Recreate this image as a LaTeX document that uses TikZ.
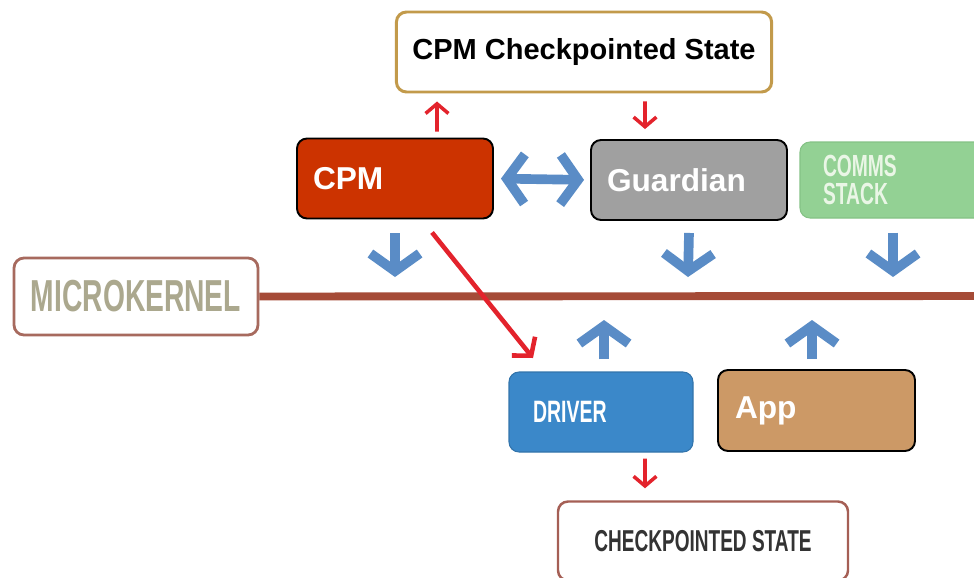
\documentclass[tikz,border=0pt]{standalone}
\usepackage{fontspec}
\setmainfont{Liberation Sans}
\newfontfamily\narrowfont[FakeStretch=0.63]{Liberation Sans}
\usetikzlibrary{arrows.meta, positioning}
\definecolor{cpmred}{HTML}{CC3300}
\definecolor{guardgray}{HTML}{A0A0A0}
\definecolor{commsgreen}{HTML}{93D194}
\definecolor{commsedge}{HTML}{84C285}
\definecolor{commstext}{HTML}{EAF6E6}
\definecolor{kernelbrown}{HTML}{A76A5E}
\definecolor{kerneltext}{HTML}{ABA88E}
\definecolor{kernelline}{HTML}{A54B37}
\definecolor{driverblue}{HTML}{3B88C9}
\definecolor{apptan}{HTML}{CC9966}
\definecolor{ckbrown}{HTML}{A55F55}
\definecolor{stategold}{HTML}{C29A4B}
\definecolor{arrowred}{HTML}{E3232C}
\definecolor{arrowblue}{HTML}{5A8CC6}
\tikzset{
  redhead/.tip = {Straight Barb[length=5.5pt, width=13pt]},
  bighead/.tip = {Straight Barb[length=7pt, width=17pt]},
  bluehead/.tip = {Straight Barb[length=10pt, width=28pt]}
}

\begin{document}
\begin{tikzpicture} [> = latex,
  box/.style = {rounded corners=0.2cm, minimum height=1.6cm, inner xsep=0.32cm, align=left, line width=1.1pt},
  boldlabel/.style = {font=\fontsize{18}{21}\selectfont\bfseries, text=white},
  redarrow/.style = {draw=arrowred, line width=2pt, -redhead},
  bluearrow/.style = {draw=arrowblue, line width=5.5pt, -bluehead}]
	\useasboundingbox (0,0) rectangle (19.48,-11.54);
	
	\node [box, draw=stategold, line width=1.7pt, minimum width=7.44cm, align=center,
	font=\fontsize{16.5}{20}\selectfont\bfseries] (cpmstate) at (11.68,-1.04) {CPM Checkpointed State};
	
	\node [box, fill=cpmred, draw=black, boldlabel, text width=3.28cm] (cpm) at (7.9,-3.57) {CPM};
	\node [box, fill=guardgray, draw=black, boldlabel, text width=3.28cm] (guardian) at (13.78,-3.6) {Guardian};
	\node [box, fill=commsgreen, draw=commsedge, line width=0.6pt, minimum height=1.52cm, inner xsep=0.46cm,
	text width=3.08cm, text=commstext, font=\narrowfont\bfseries\fontsize{17.4}{16.4}\selectfont] (comms) at (18,-3.6) {COMMS\\STACK};
	
	\node [box, draw=kernelbrown, line width=1.6pt, fill=white, minimum width=4.88cm, minimum height=1.54cm,
	align=center, text=kerneltext, font=\narrowfont\bfseries\fontsize{25.5}{27}\selectfont] (kernel) at (2.72,-5.93) {MICROKERNEL};
	
	\node [box, fill=driverblue, draw=driverblue!85!black, line width=0.6pt, inner xsep=0.48cm, text width=2.72cm,
	text=white, font=\narrowfont\bfseries\fontsize{17.6}{20}\selectfont] (driver) at (12.02,-8.24) {DRIVER};
	\node [box, fill=apptan, draw=black, boldlabel, minimum height=1.62cm, inner xsep=0.34cm, text width=3.26cm] (app) at (16.33,-8.21) {App};
	
	\node [box, draw=ckbrown, line width=1.4pt, fill=white, minimum width=5.8cm, minimum height=1.58cm, align=center,
	text=black!80, font=\narrowfont\bfseries\fontsize{17.2}{20}\selectfont] (ckstate) at (14.06,-10.82) {CHECKPOINTED STATE};
	
	\coordinate (lineend) at (19.6,-5.92);
	\draw [kernelline, line width=4.5pt] (kernel.east) -- (lineend);
	
	\draw [redarrow] ([xshift=0.84cm, yshift=0.12cm]cpm.north) -- ([xshift=-2.94cm, yshift=-0.16cm]cpmstate.south);
	\draw [redarrow] ([xshift=1.22cm, yshift=-0.16cm]cpmstate.south) -- ([xshift=-0.88cm, yshift=0.2cm]guardian.north);
	\draw [bluearrow, bluehead-bluehead, shorten <=0.14cm, shorten >=0.12cm] (cpm.east) -- (guardian.west);
	
	\coordinate (k1) at (7.9,-5.54);
	\coordinate (k2) at (13.76,-5.54);
	\coordinate (k3) at (17.86,-5.54);
	\coordinate (k4) at (12.08,-6.4);
	\coordinate (k5) at (16.24,-6.4);
	\draw [bluearrow] ([yshift=-0.28cm]cpm.south) -- (k1);
	\draw [bluearrow] ([yshift=-0.24cm]guardian.south) -- (k2);
	\draw [bluearrow] ([xshift=-0.14cm, yshift=-0.28cm]comms.south) -- (k3);
	\draw [bluearrow] ([xshift=0.06cm, yshift=0.24cm]driver.north) -- (k4);
	\draw [bluearrow] ([xshift=-0.09cm, yshift=0.2cm]app.north) -- (k5);
	
	\coordinate (d1) at (10.66,-7.16);
	\draw [redarrow, line width=2.6pt, -bighead] ([xshift=0.74cm, yshift=-0.26cm]cpm.south) -- (d1);
	\draw [redarrow] ([xshift=0.88cm, yshift=-0.12cm]driver.south) -- ([xshift=-1.16cm, yshift=0.24cm]ckstate.north);
\end{tikzpicture}
\end{document}
